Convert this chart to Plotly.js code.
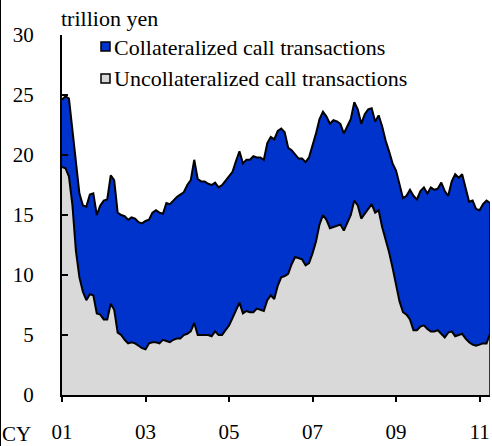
<!DOCTYPE html>
<html><head><meta charset="utf-8">
<script src="https://cdn.plot.ly/plotly-3.0.1.min.js"></script>
<style>
html,body{margin:0;padding:0;background:#fff}
#wrap{width:492px;height:446px;position:relative;overflow:hidden}
#chart{width:492px;height:446px}
#edge{position:absolute;left:0;top:0;width:1px;height:446px;background:#000}
</style>
</head><body><div id="wrap"><div id="chart"></div><div id="edge"></div></div>
<script>
// Monthly, Jan 2001 onward (trillion yen)
const uncollateralized = [19.0,18.9,18.2,15.8,12.0,9.8,8.6,7.9,8.4,8.3,6.8,6.7,
6.3,6.3,7.6,7.1,5.2,5.0,4.6,4.3,4.4,4.3,4.1,3.9,
3.8,4.3,4.4,4.4,4.3,4.6,4.5,4.4,4.6,4.7,4.7,5.0,
5.1,5.3,6.0,5.0,5.0,5.0,5.0,4.9,5.3,5.0,5.0,5.4,
5.8,6.4,7.1,7.7,6.8,7.0,6.9,6.9,7.2,7.1,7.0,7.9,
8.3,8.0,9.1,9.8,9.9,10.1,10.9,11.5,11.4,11.3,10.8,11.0,
11.8,12.8,14.2,15.0,14.6,13.9,14.0,14.1,14.2,13.7,14.4,15.0,
16.2,15.8,14.7,15.1,15.6,15.9,15.2,15.4,14.0,13.0,11.9,10.6,
9.3,7.8,6.9,6.7,6.3,5.4,5.4,5.7,5.8,5.5,5.3,5.3,
5.4,5.1,4.8,5.2,5.3,4.9,5.0,5.1,4.7,4.4,4.2,4.1,
4.2,4.3,4.3,5.1];
const collateralized = [5.6,6.0,6.5,6.2,7.2,7.0,7.2,7.8,8.3,8.5,8.2,9.1,
9.9,10.0,10.7,10.8,10.0,10.0,10.3,10.3,10.4,10.4,10.3,10.4,
10.7,10.3,10.8,11.0,10.9,10.5,11.5,11.5,11.6,11.8,12.0,11.9,
12.4,12.6,13.6,13.0,12.8,12.8,12.6,12.6,12.4,12.3,12.5,12.5,
12.5,12.2,12.4,12.6,12.5,12.6,12.7,13.0,12.6,12.7,12.6,13.1,
13.2,13.3,12.9,12.4,12.0,10.5,9.5,8.5,8.3,8.4,8.6,8.8,
8.9,9.0,8.8,8.6,8.6,8.7,8.9,8.7,8.4,8.1,8.0,8.0,
8.2,8.0,7.9,8.3,8.2,8.0,7.6,7.9,8.4,8.2,8.4,8.7,
9.4,9.8,9.5,9.9,10.8,11.2,10.9,11.3,11.5,11.3,12.0,11.8,
11.8,12.6,12.2,11.4,12.5,13.5,13.1,13.3,12.5,11.7,12.0,11.4,
11.2,11.6,11.9,10.9];
const tickMonths = [0,24,48,72,96,120];
const tickLabels = ['01','03','05','07','09','11'];
const seriesNames = ['Collateralized call transactions','Uncollateralized call transactions'];

const months = uncollateralized.map((_, i) => i);
const last = months.length - 1;
const FONT = '"Times New Roman"';
const BLUE = '#0033CC';
const GRAY = '#D9D9D9';

// pixel helpers for layout (plot area: x 62..490, y 35..395)
const px = q => (q - 62) / 428;
const py = p => (395 - p) / 360;

const traces = [
  {x: months, y: uncollateralized, name: seriesNames[1], type: 'scatter', mode: 'lines',
   stackgroup: 'one', fillcolor: GRAY, line: {color: '#000', width: 2}, showlegend: false},
  {x: months, y: collateralized, name: seriesNames[0], type: 'scatter', mode: 'lines',
   stackgroup: 'one', fillcolor: BLUE, line: {color: '#000', width: 2}, showlegend: false}
];

const layout = {
  width: 492, height: 446,
  margin: {l: 62, r: 2, t: 35, b: 51},
  paper_bgcolor: '#fff', plot_bgcolor: '#fff',
  font: {family: FONT, size: 21, color: '#000'},
  showlegend: false,
  xaxis: {range: [0, last], tickmode: 'array', tickvals: tickMonths, ticktext: tickLabels,
    ticks: 'outside', ticklen: 5, tickwidth: 2, tickcolor: '#000',
    showline: true, linewidth: 2, linecolor: '#000', showgrid: false, zeroline: false,
    ticklabelstandoff: 12, tickfont: {family: FONT, size: 21, color: '#000'}},
  yaxis: {range: [0, 30], dtick: 5, tick0: 0,
    ticks: 'inside', ticklen: 6, tickwidth: 2, tickcolor: '#000',
    showline: true, linewidth: 2, linecolor: '#000', showgrid: false, zeroline: false,
    ticklabelstandoff: 22, tickfont: {family: FONT, size: 21, color: '#000'}},
  shapes: [
    {type: 'line', xref: 'x', yref: 'y', x0: last, x1: last, y0: 0,
     y1: uncollateralized[last] + collateralized[last], line: {color: '#000', width: 1.5}},
    {type: 'rect', xref: 'paper', yref: 'paper', x0: px(101), x1: px(110), y0: py(51), y1: py(42),
     fillcolor: BLUE, line: {color: '#000', width: 1.5}},
    {type: 'rect', xref: 'paper', yref: 'paper', x0: px(101), x1: px(110), y0: py(83), y1: py(74),
     fillcolor: GRAY, line: {color: '#000', width: 1.5}}
  ],
  annotations: [
    {text: 'trillion yen', xref: 'paper', yref: 'paper', x: px(59), y: py(19),
     xanchor: 'left', yanchor: 'middle', showarrow: false, font: {family: FONT, size: 22}},
    {text: seriesNames[0], xref: 'paper', yref: 'paper', x: px(112), y: py(47),
     xanchor: 'left', yanchor: 'middle', showarrow: false, font: {family: FONT, size: 22}},
    {text: seriesNames[1], xref: 'paper', yref: 'paper', x: px(112), y: py(78),
     xanchor: 'left', yanchor: 'middle', showarrow: false, font: {family: FONT, size: 22}},
    {text: 'CY', xref: 'paper', yref: 'paper', x: px(16), y: py(434),
     xanchor: 'center', yanchor: 'middle', showarrow: false, font: {family: FONT, size: 21}}
  ]
};

Plotly.newPlot('chart', traces, layout, {displayModeBar: false, staticPlot: true});
</script>
</body></html>
